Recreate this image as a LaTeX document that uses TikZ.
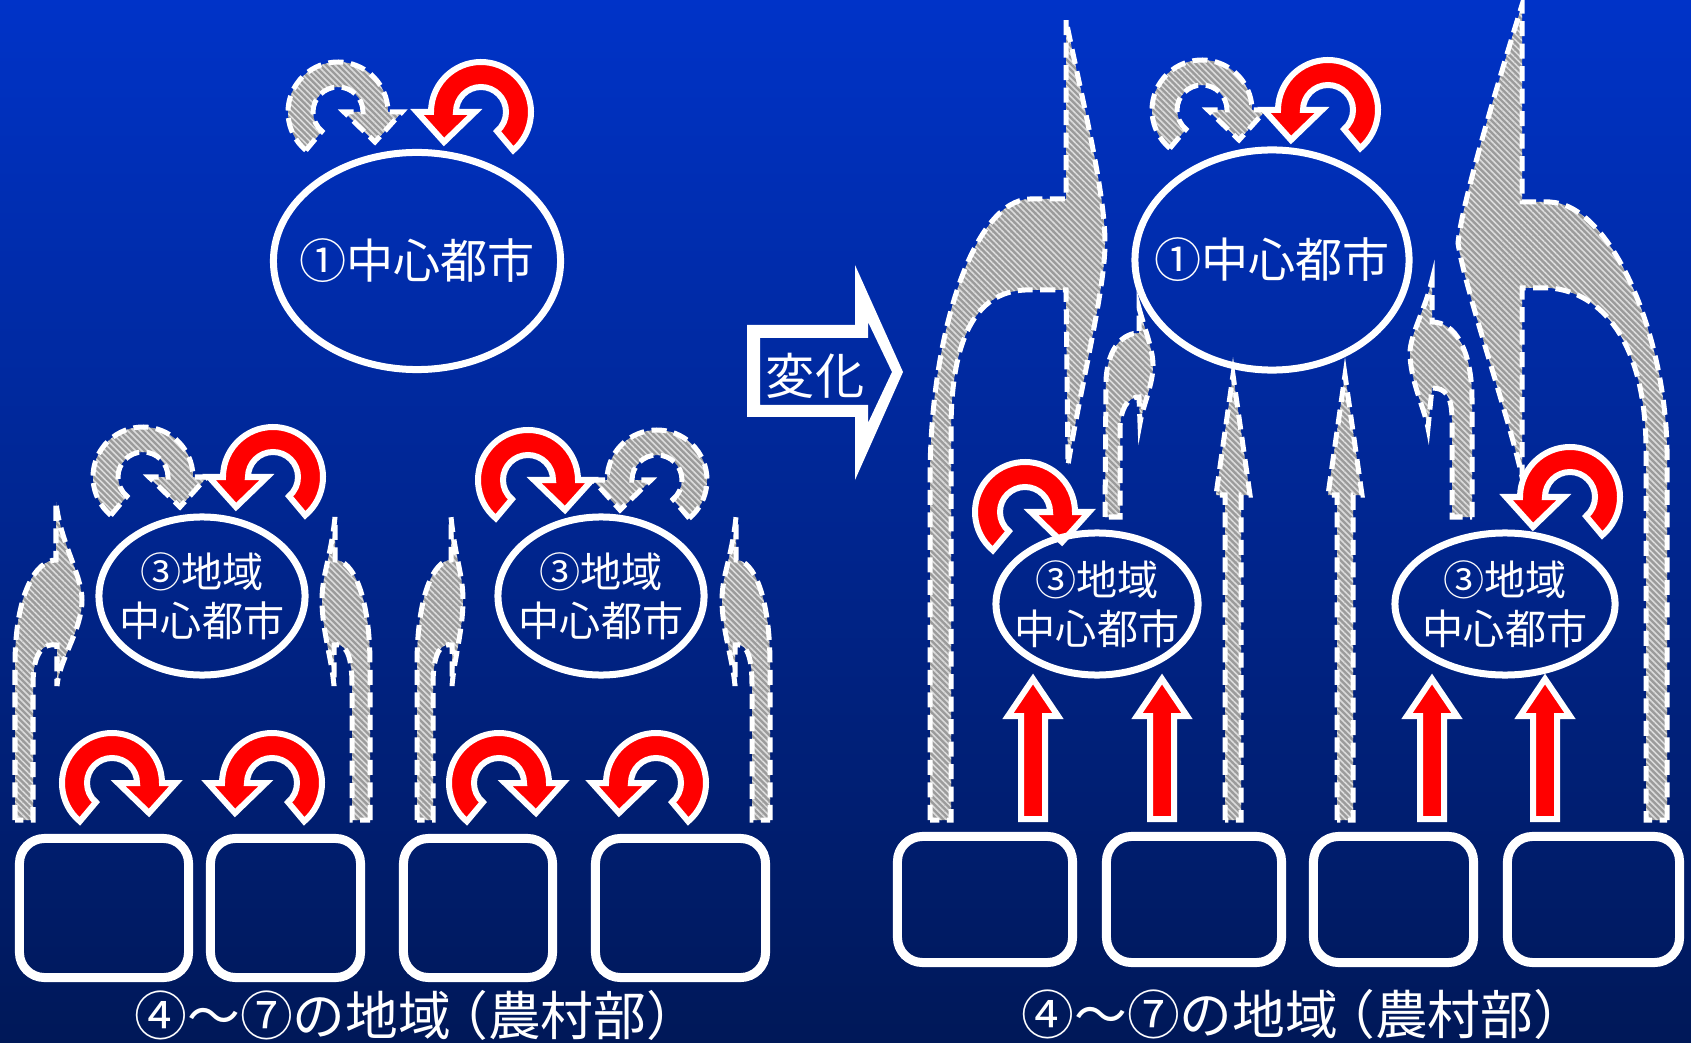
\documentclass[tikz,border=0pt]{standalone}
\usepackage{fontspec}
\setmainfont{Noto Sans CJK JP}
\usetikzlibrary{shapes.geometric,patterns.meta}
\definecolor{bgtop}{RGB}{0,51,200}
\definecolor{bgmid}{RGB}{0,38,150}
\definecolor{bgbot}{RGB}{0,24,88}
\definecolor{grayfill}{RGB}{155,155,155}
\definecolor{graystripe}{RGB}{220,220,220}
\tikzset{
  redsh/.style={fill=red, draw=white, line width=0.06cm, line join=miter},
  graysh/.style={preaction={fill=grayfill},
    pattern={Lines[angle=-45,distance=1.2pt,line width=0.45pt]}, pattern color=graystripe,
    draw=white, line width=0.05cm, dash pattern=on 0.15cm off 0.075cm},
  ell/.style={ellipse, draw=white, line width=0.07cm, inner sep=0pt},
  eltxt/.style={text=white, align=center, inner sep=0pt},
  bigtxt/.style={font=\fontsize{13.4pt}{16pt}\selectfont},
  smalltxt/.style={font=\fontsize{11.7pt}{14pt}\selectfont},
  box/.style={draw=white, line width=0.09cm, rounded corners=0.25cm, inner sep=0pt},
  foot/.style={text=white, font=\fontsize{15pt}{18pt}\selectfont, inner sep=0pt}
}
\newcommand\uturn[4]{%
  \path[#4, shift={(#1,#2)}, yscale=-1, xscale=#3]
    (-50:50) arc[start angle=-50,end angle=180,radius=50] -- (-64,0) -- (-37,-30)
    -- (-6,0) -- (-25,0) arc[start angle=180,end angle=-50,radius=25] -- cycle;}
\newcommand\sflame[6]{%
  \path[graysh, shift={(#1,0)}, xscale=#6]
    (#2,820) -- (#2,665) .. controls (#2,595) and ({0.5*(#2)},560) .. (0,560)
    -- (0,#5) .. controls (4,{#5+40}) and (#4,575) .. (#4,600)
    .. controls (#4,630) and (3,660) .. (1,686) -- (1,645)
    .. controls ({0.5*(#3)},643) and (#3,650) .. (#3,685) -- (#3,820) -- cycle;}
\newcommand\foottext{④〜⑦の地域\kern-0.3em（農村部）\kern-0.45em}
\begin{document}
\begin{tikzpicture}[x=0.01cm,y=-0.01cm]
\useasboundingbox (0,0) rectangle (1691,1043);
\shade[top color=bgtop, middle color=bgmid, bottom color=bgbot] (0,0) rectangle (1691,1043);

% ---------- left half ----------
\sflame{56}{-41}{-23}{26}{502}{1}
\sflame{335}{-35}{-17}{13}{517}{-1}
\sflame{451}{-34}{-18}{12}{517}{1}
\sflame{736}{-34}{-16}{14}{517}{-1}

\uturn{338}{112}{-1}{graysh}
\uturn{481}{112}{1}{redsh}
\uturn{143}{477}{-1}{graysh}
\uturn{273}{477}{1}{redsh}
\uturn{528}{480}{-1}{redsh}
\uturn{657}{480}{1}{graysh}
\uturn{112}{783}{-1}{redsh}
\uturn{272}{783}{1}{redsh}
\uturn{499}{783}{-1}{redsh}
\uturn{656}{783}{1}{redsh}

\node[ell, minimum width=2.87cm, minimum height=2.17cm] (c1L) at (417,261) {};
\node[eltxt, bigtxt] (t1L) at (c1L.center) {①中心都市};
\node[ell, minimum width=2.06cm, minimum height=1.58cm] (c3La) at (202,596) {};
\node[eltxt, smalltxt] (t3La) at (c3La.center) {③地域\\中心都市};
\node[ell, minimum width=2.06cm, minimum height=1.58cm] (c3Lb) at (601,596) {};
\node[eltxt, smalltxt] (t3Lb) at (c3Lb.center) {③地域\\中心都市};

\node[box, minimum width=1.69cm, minimum height=1.39cm] (bL1) at (104,908) {};
\node[box, minimum width=1.50cm, minimum height=1.39cm] (bL2) at (285.5,908) {};
\node[box, minimum width=1.49cm, minimum height=1.39cm] (bL3) at (478,908) {};
\node[box, minimum width=1.70cm, minimum height=1.39cm] (bL4) at (680.5,908) {};
\node[foot] (tL) at (405,1015) {\foottext};

% ---------- change arrow ----------
\fill[white, even odd rule]
  (747,325) -- (855,325) -- (855,265) -- (903,372) -- (855,480) -- (855,417) -- (747,417) -- cycle
  (760,338) -- (868,338) -- (868,322) -- (892,372) -- (868,423) -- (868,405) -- (760,405) -- cycle;
\node[text=white, font=\fontsize{14pt}{16pt}\selectfont, inner sep=0pt] (chg) at (815,376) {変化};

% ---------- right half ----------
% big left flame
\path[graysh] (930,820) -- (930,480) .. controls (930,330) and (975,200) .. (1030,199) -- (1066,199)
  -- (1066,20) .. controls (1080,90) and (1105,190) .. (1105,243)
  .. controls (1105,290) and (1080,390) .. (1068,465) -- (1066,290) -- (1025,290)
  .. controls (975,292) and (951,340) .. (951,430) -- (951,820) -- cycle;
% small left flame
\path[graysh] (1105,517) -- (1106,380) .. controls (1108,345) and (1125,333) .. (1139,333)
  -- (1139,308) .. controls (1145,330) and (1153,350) .. (1153,365)
  .. controls (1153,385) and (1143,405) .. (1140,423) -- (1139,397)
  .. controls (1127,397) and (1120,410) .. (1120,430) -- (1120,517) -- cycle;
% small right flame
\path[graysh] (1472,517) -- (1472,400) .. controls (1472,350) and (1455,322) .. (1432,322)
  -- (1432,280) .. controls (1425,310) and (1410,335) .. (1410,353)
  .. controls (1410,380) and (1425,410) .. (1428,428) -- (1432,388)
  .. controls (1445,388) and (1452,395) .. (1452,420) -- (1452,517) -- cycle;
% big right flame
\path[graysh] (1667,820) -- (1667,450) .. controls (1665,330) and (1610,205) .. (1550,202) -- (1522,202)
  -- (1522,5) .. controls (1505,60) and (1462,200) .. (1458,243)
  .. controls (1465,290) and (1510,420) .. (1522,477) -- (1522,288) -- (1550,288)
  .. controls (1600,292) and (1646,340) .. (1646,450) -- (1646,820) -- cycle;
% straight gray arrows
\foreach \cx in {1233,1345}{
  \path[graysh] ({\cx-8},820) -- ({\cx-8},495) -- ({\cx-17},495) -- (\cx,375)
    -- ({\cx+17},495) -- ({\cx+8},495) -- ({\cx+8},820) -- cycle;}
% straight red arrows
\foreach \cx in {1033,1162,1432,1545}{
  \path[redsh] ({\cx-12},819) -- ({\cx-12},716) -- ({\cx-25},716) -- (\cx,679)
    -- ({\cx+25},716) -- ({\cx+12},716) -- ({\cx+12},819) -- cycle;}

\uturn{1202}{110}{-1}{graysh}
\uturn{1328}{110}{1}{redsh}
\uturn{1025}{512}{-1}{redsh}
\uturn{1570}{497}{1}{redsh}

\node[ell, minimum width=2.74cm, minimum height=2.20cm] (c1R) at (1272,260) {};
\node[eltxt, bigtxt] (t1R) at (c1R.center) {①中心都市};
\node[ell, minimum width=2.02cm, minimum height=1.42cm] (c3Ra) at (1097,604) {};
\node[eltxt, smalltxt] (t3Ra) at (c3Ra.center) {③地域\\中心都市};
\node[ell, minimum width=2.20cm, minimum height=1.42cm] (c3Rb) at (1505,604) {};
\node[eltxt, smalltxt] (t3Rb) at (c3Rb.center) {③地域\\中心都市};

\node[box, minimum width=1.75cm, minimum height=1.26cm] (bR1) at (985,899.5) {};
\node[box, minimum width=1.75cm, minimum height=1.26cm] (bR2) at (1194,899.5) {};
\node[box, minimum width=1.60cm, minimum height=1.26cm] (bR3) at (1393.5,899.5) {};
\node[box, minimum width=1.72cm, minimum height=1.26cm] (bR4) at (1593.5,899.5) {};
\node[foot] (tR) at (1292,1014) {\foottext};
\end{tikzpicture}
\end{document}
